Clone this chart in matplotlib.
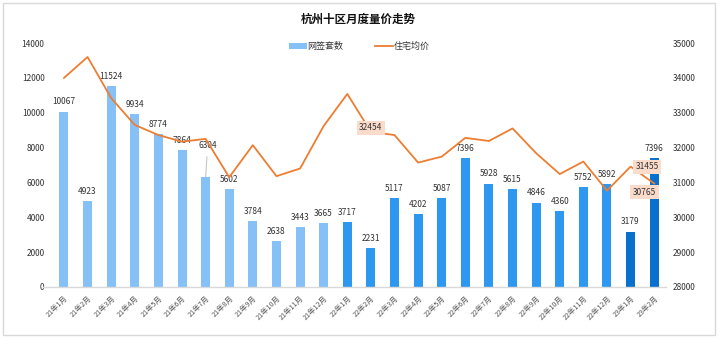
import matplotlib
matplotlib.use("Agg")
import matplotlib.pyplot as plt
from matplotlib.patches import Rectangle

plt.rcParams['font.family'] = ['Noto Sans CJK SC', 'DejaVu Sans']

months = ["21年1月", "21年2月", "21年3月", "21年4月", "21年5月", "21年6月",
          "21年7月", "21年8月", "21年9月", "21年10月", "21年11月", "21年12月",
          "22年1月", "22年2月", "22年3月", "22年4月", "22年5月", "22年6月",
          "22年7月", "22年8月", "22年9月", "22年10月", "22年11月", "22年12月",
          "23年1月", "23年2月"]
deals = [10067, 4923, 11524, 9934, 8774, 7864, 6304, 5602, 3784, 2638, 3443, 3665,
         3717, 2231, 5117, 4202, 5087, 7396, 5928, 5615, 4846, 4360, 5752, 5892,
         3179, 7396]
prices = [34000, 34600, 33420, 32650, 32360, 32170, 32250, 31150, 32070, 31180, 31400, 32620,
          33540, 32454, 32360, 31570, 31740, 32280, 32190, 32550, 31840, 31240, 31600, 30765,
          31455, 30970]
left_ticks = [0, 2000, 4000, 6000, 8000, 10000, 12000, 14000]
right_ticks = [28000, 29000, 30000, 31000, 32000, 33000, 34000, 35000]
price_labels = {13: (0, 3), 23: (27, -1), 24: (12, 0)}  # index -> text offset (pt)

year_colors = {"21": "#85C1F7", "22": "#2E98F0", "23": "#0A70CE"}
bar_colors = [year_colors[m[:2]] for m in months]

fig = plt.figure(figsize=(7.2, 3.39), dpi=100)
fig.patches.append(Rectangle((0.004, 0.012), 0.989, 0.978, transform=fig.transFigure,
                             fill=False, edgecolor="#D9D9D9", linewidth=1.0))

ax = fig.add_axes([0.060, 0.1534, 0.865, 0.7196])
x = list(range(len(months)))
bars = ax.bar(x, deals, width=0.38, color=bar_colors, label="网签套数", zorder=2)
ax.set_xlim(-0.88, 25.5)
ax.set_ylim(0, 14000)
ax.set_yticks(left_ticks)
ax.set_yticklabels([str(t) for t in left_ticks], fontsize=6, color="#333333")
ax.set_xticks(x)
ax.set_xticklabels(months, rotation=45, ha="right", rotation_mode="anchor",
                   fontsize=5.2, color="#555555")
ax.tick_params(axis="both", length=0)
ax.tick_params(axis="y", pad=-1)
ax.tick_params(axis="x", pad=5)
for s in ["top", "right", "left"]:
    ax.spines[s].set_visible(False)
ax.spines["bottom"].set_color("#D9D9D9")
ax.spines["bottom"].set_linewidth(1.0)

for i, v in enumerate(deals):
    if i == 6:
        ax.annotate(str(v), xy=(i, v), xytext=(1.5, 23), textcoords="offset points",
                    ha="center", va="center", fontsize=6, color="#333333",
                    arrowprops=dict(arrowstyle="-", color="#BFBFBF", lw=0.7,
                                    shrinkA=3, shrinkB=0))
    else:
        ax.annotate(str(v), xy=(i, v), xytext=(0, 7), textcoords="offset points",
                    ha="center", va="center", fontsize=6, color="#333333")

ax2 = ax.twinx()
ax2.plot(x, prices, color="#ED7D31", linewidth=1.3, label="住宅均价", zorder=3)
ax2.set_ylim(28000, 35000)
ax2.set_yticks(right_ticks)
ax2.set_yticklabels([str(t) for t in right_ticks], fontsize=6, color="#333333")
ax2.tick_params(axis="y", length=0, pad=5)
for s in ["top", "right", "left", "bottom"]:
    ax2.spines[s].set_visible(False)

for i, off in price_labels.items():
    ax2.annotate(str(prices[i]), xy=(i, prices[i]), xytext=off, textcoords="offset points",
                 ha="center", va="center", fontsize=6, color="#333333", zorder=5,
                 bbox=dict(boxstyle="square,pad=0.3", facecolor="#FBDCCB", edgecolor="none"))

h1, l1 = ax.get_legend_handles_labels()
h2, l2 = ax2.get_legend_handles_labels()
fig.legend(h1 + h2, l1 + l2, loc="center", bbox_to_anchor=(0.499, 0.862), ncol=2,
           frameon=False, fontsize=6.5, handlelength=2.0, handleheight=0.6,
           columnspacing=3.5, handletextpad=0.1, labelcolor="#333333")

fig.text(0.497, 0.944, "杭州十区月度量价走势", ha="center", va="center",
         fontsize=8.3, fontweight="bold", color="#111111")

fig.savefig("out.png", dpi=100)
